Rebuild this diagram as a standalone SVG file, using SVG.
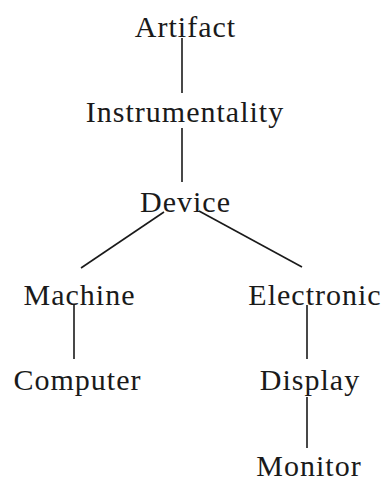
<svg xmlns="http://www.w3.org/2000/svg" width="383" height="481" viewBox="0 0 383 481">
  <style>
    .lbl { font-family: "Liberation Serif", "Times New Roman", serif; font-size: 30px; fill: #1a1a1a; text-anchor: middle; letter-spacing: 1px; }
    .edge { stroke: #1a1a1a; stroke-width: 1.6; fill: none; }
  </style>
  <rect width="383" height="481" fill="#ffffff"/>
  <g id="connectors">
    <line class="edge" x1="182" y1="38" x2="182" y2="93"/>
    <line class="edge" x1="182" y1="128" x2="182" y2="182"/>
    <line class="edge" x1="164" y1="212" x2="81" y2="268"/>
    <line class="edge" x1="199" y1="211" x2="302" y2="267"/>
    <line class="edge" x1="74" y1="305" x2="74" y2="359"/>
    <line class="edge" x1="307" y1="305" x2="307" y2="359"/>
    <line class="edge" x1="307" y1="397" x2="307" y2="448"/>
  </g>
  <g id="artifact"><text class="lbl" x="185.5" y="37">Artifact</text></g>
  <g id="instrumentality"><text class="lbl" x="185" y="122">Instrumentality</text></g>
  <g id="device"><text class="lbl" x="185.5" y="212">Device</text></g>
  <g id="machine"><text class="lbl" x="79.5" y="305">Machine</text></g>
  <g id="electronic"><text class="lbl" x="315" y="305">Electronic</text></g>
  <g id="computer"><text class="lbl" x="77.5" y="390">Computer</text></g>
  <g id="display"><text class="lbl" x="310" y="390">Display</text></g>
  <g id="monitor"><text class="lbl" x="309" y="476">Monitor</text></g>
</svg>
